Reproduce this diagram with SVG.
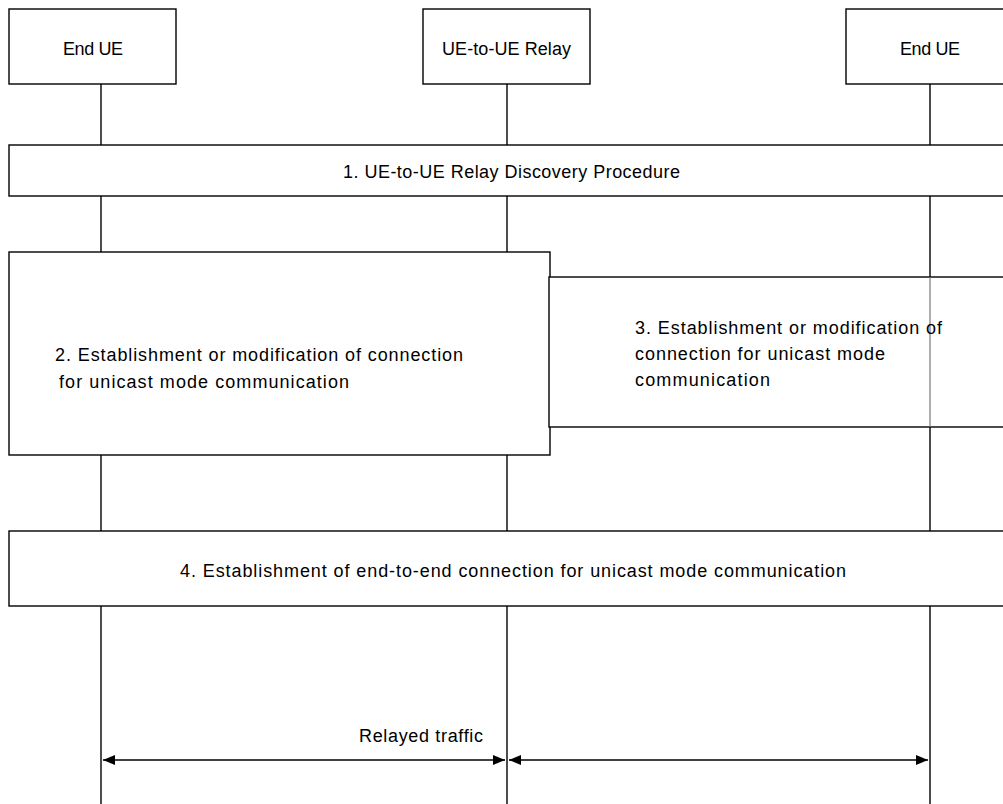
<svg xmlns="http://www.w3.org/2000/svg" width="1003" height="804" viewBox="0 0 1003 804">
<style>
.box{fill:#fff;stroke:#000;stroke-width:1.4}
.life{stroke:#000;stroke-width:1.4;fill:none}
.msg{stroke:#000;stroke-width:1.4;fill:none}
text{font-family:"Liberation Sans",Arial,sans-serif;font-size:18px;fill:#000}
</style>
<defs>
<marker id="ah" viewBox="0 0 12 10" refX="12" refY="5" markerWidth="12" markerHeight="10" markerUnits="userSpaceOnUse" orient="auto-start-reverse">
<path d="M0,0 L12,5 L0,10 Z" fill="#000"/>
</marker>
</defs>
<g id="lifelines">
<line class="life" x1="101" y1="84" x2="101" y2="804"/>
<line class="life" x1="507" y1="84" x2="507" y2="804"/>
<line class="life" x1="930" y1="84" x2="930" y2="804"/>
</g>
<g id="end-ue-left"><rect class="box" x="9" y="9" width="167" height="75"/><text x="63" y="55" textLength="60">End UE</text></g>
<g id="relay"><rect class="box" x="423" y="9" width="167" height="75"/><text x="442" y="55" textLength="129">UE-to-UE Relay</text></g>
<g id="end-ue-right"><rect class="box" x="846" y="9" width="170" height="75"/><text x="900" y="55" textLength="60">End UE</text></g>
<g id="step1"><rect class="box" x="9" y="145" width="1010" height="51"/><text x="343" y="178" textLength="337">1. UE-to-UE Relay Discovery Procedure</text></g>
<g id="step2"><rect class="box" x="9" y="252" width="541" height="203"/><text x="55" y="361" textLength="408">2. Establishment or modification of connection</text><text x="59" y="388" textLength="290">for unicast mode communication</text></g>
<g id="step3"><rect class="box" x="549" y="277" width="470" height="150"/>
<line x1="930" y1="277" x2="930" y2="427" stroke="#777" stroke-width="1.2"/>
<text x="635" y="334" textLength="307">3. Establishment or modification of</text><text x="635" y="360" textLength="250">connection for unicast mode</text><text x="635" y="386" textLength="135">communication</text></g>
<g id="step4"><rect class="box" x="9" y="531" width="1010" height="75"/><text x="180" y="577" textLength="666">4. Establishment of end-to-end connection for unicast mode communication</text></g>
<g id="connectors">
<line class="msg" x1="103" y1="760" x2="505" y2="760" marker-start="url(#ah)" marker-end="url(#ah)"/>
<line class="msg" x1="509" y1="760" x2="928" y2="760" marker-start="url(#ah)" marker-end="url(#ah)"/>
<text x="359" y="742" textLength="124">Relayed traffic</text>
</g>
</svg>
